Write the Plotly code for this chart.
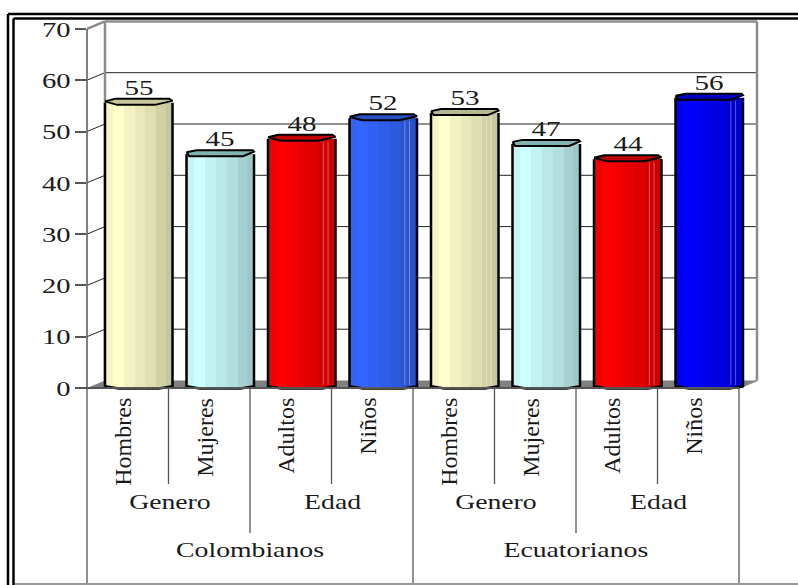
import plotly.graph_objects as go

# Chart data
groups = ["Colombianos", "Ecuatorianos"]
subgroups = ["Genero", "Edad", "Genero", "Edad"]
categories = ["Hombres", "Mujeres", "Adultos", "Niños", "Hombres", "Mujeres", "Adultos", "Niños"]
values = [55, 45, 48, 52, 53, 47, 44, 56]
y_ticks = [0, 10, 20, 30, 40, 50, 60, 70]

# Canvas geometry (pixels) for the front plane of the 3D box
W, H = 798, 585
X0_PX, X_SCALE = 87.0, 81.5      # px of x=0, px per category
Y0_PX, Y_SCALE = 388.0, 5.13     # px of y=0, px per value unit
PLOT_R_PX, PLOT_T_PX, PLOT_B_PX = 760.0, 16.0, 394.0
DEPTH_X = 18.0 / X_SCALE         # depth of the box along x
DEPTH_Y = 7.5 / Y_SCALE          # depth of the box along y

x_hi = (PLOT_R_PX - X0_PX) / X_SCALE
y_hi = (Y0_PX - PLOT_T_PX) / Y_SCALE
y_lo = (Y0_PX - PLOT_B_PX) / Y_SCALE

BAR_LEFT = 18.0 / X_SCALE        # offset of a bar's left edge inside its category
BAR_W = 67.5 / X_SCALE

# Cylinder shading: strip boundaries and brightness across each bar
strip_edges = [0, .12, .28, .44, .60, .76, .90, 1.0]
strip_shade = [.96, 1.0, .95, .91, .87, .82, .78]
base_colors = [(255, 255, 204), (204, 255, 255), (255, 0, 0), (51, 102, 255),
               (255, 255, 204), (204, 255, 255), (255, 0, 0), (0, 0, 255)]
top_colors = ["#c8c8a0", "#80b4b4", "#c00000", "#2850c0",
              "#b8b890", "#80b4b4", "#c00000", "#0000c0"]
# Top cap outline style for each bar: faceted or box-like
cap_box = [False, True, False, False, True, True, False, True]
side_lines = [False, False, True, True, True, False, True, True]


def paper_x(px):
    return (px - X0_PX) / (PLOT_R_PX - X0_PX)


def paper_y(py):
    return (PLOT_B_PX - py) / (PLOT_B_PX - PLOT_T_PX)


def shade(rgb, f):
    return "rgb(%d,%d,%d)" % tuple(round(c * f) for c in rgb)


fig = go.Figure()

# Shaded strips of the bars
for s, f in enumerate(strip_shade):
    lo, hi = strip_edges[s], strip_edges[s + 1]
    fig.add_trace(go.Bar(
        x=[i + BAR_LEFT + BAR_W * (lo + hi) / 2 for i in range(8)],
        y=[v + 0.6 for v in values],
        width=BAR_W * (hi - lo) + 0.004,
        marker=dict(color=[shade(c, f) for c in base_colors], line_width=0),
        hoverinfo="skip",
    ))

# Outline, cap and highlights of each bar
u = 1 / Y_SCALE
for i, v in enumerate(values):
    L = i + BAR_LEFT
    px = lambda fr: L + BAR_W * fr
    if side_lines[i]:
        for fr in (.82, .89):
            fig.add_trace(go.Scatter(x=[px(fr), px(fr)], y=[0.6, v], mode="lines",
                                     line=dict(color="rgba(255,255,255,0.35)", width=1), hoverinfo="skip"))
    # Walls and curved base
    fig.add_trace(go.Scatter(
        x=[px(0), px(0), px(.2), px(.8), px(1), px(1)],
        y=[v + 3 * u, 1.8 * u, -0.5 * u, -0.5 * u, 1.8 * u, v + 3 * u],
        mode="lines", line=dict(color="black", width=2.5), hoverinfo="skip"))
    # Top cap
    if cap_box[i]:
        cx = [0, .15, .98, 1, .84, .04, 0]
        cy = [5, 7, 7, 5.5, 1, 1, 5]
    else:
        cx = [0, .15, .95, 1, .74, .18, 0]
        cy = [4.5, 7, 7, 5, 1, 1, 4.5]
    fig.add_trace(go.Scatter(
        x=[px(a) for a in cx], y=[v + b * u for b in cy], mode="lines",
        fill="toself", fillcolor=top_colors[i],
        line=dict(color="black", width=2), hoverinfo="skip"))

shapes = []


def line(x0, y0, x1, y1, color, width, layer="below", xref="x", yref="y"):
    shapes.append(dict(type="line", x0=x0, y0=y0, x1=x1, y1=y1, xref=xref, yref=yref,
                       layer=layer, line=dict(color=color, width=width)))


# Floor of the box
shapes.append(dict(type="path", layer="below", xref="x", yref="y",
                   path=f"M0,0 L{DEPTH_X},{DEPTH_Y} L{8 + DEPTH_X},{DEPTH_Y} L8,0 Z",
                   fillcolor="#808080", line=dict(width=0)))
# Back wall gridlines and their links to the front axis
for t in y_ticks[1:-1]:
    line(DEPTH_X, t + DEPTH_Y, 8 + DEPTH_X, t + DEPTH_Y, "#222222", 1)
    line(0, t, DEPTH_X, t + DEPTH_Y, "#222222", 1)
# Grey box edges
wall = "#8c8c8c"
top = y_ticks[-1]
line(DEPTH_X, DEPTH_Y, DEPTH_X, top + DEPTH_Y, wall, 2.5)
line(8 + DEPTH_X, DEPTH_Y, 8 + DEPTH_X, top + DEPTH_Y, wall, 2.5)
line(DEPTH_X, top + DEPTH_Y, 8 + DEPTH_X, top + DEPTH_Y, wall, 2.5)
line(0, top, DEPTH_X, top + DEPTH_Y, wall, 2.5)
line(8, 0, 8 + DEPTH_X, DEPTH_Y, wall, 1.5)

# Front value axis and category baseline
axis = "#555555"
line(paper_x(87), 0, paper_x(87), top, axis, 1.5, "above", xref="paper")
line(0, 0, 8, 0, axis, 2, "above")
line(paper_x(76), 0, paper_x(87), 0, axis, 2, "above", xref="paper")

# Multi-level category dividers
for i in range(0, 9):
    depth_px = 583 if i % 4 == 0 else (533 if i % 2 == 0 else 484)
    xr = "paper" if i == 0 else "x"
    xv = paper_x(87) if i == 0 else i
    line(xv, paper_y(388), xv, paper_y(depth_px), axis, 1.3, "above", xref=xr, yref="paper")

# Double frame around the chart
line(paper_x(8), paper_y(14), paper_x(8), paper_y(585), "black", 2.5, "above", "paper", "paper")
line(paper_x(13.5), paper_y(18.5), paper_x(13.5), paper_y(585), "black", 2.5, "above", "paper", "paper")
line(paper_x(8), paper_y(14), paper_x(798), paper_y(14), "black", 2.5, "above", "paper", "paper")
line(paper_x(13.5), paper_y(18.5), paper_x(798), paper_y(18.5), "black", 2.5, "above", "paper", "paper")
line(paper_x(15), paper_y(584), paper_x(798), paper_y(584), "#333333", 1.2, "above", "paper", "paper")

annotations = []
TEXT = "#1a1a1a"
SERIF = "Liberation Serif"

# Value labels above the bars
for i, v in enumerate(values):
    annotations.append(dict(x=i + BAR_LEFT + BAR_W / 2, y=v, text=str(v), showarrow=False,
                            yanchor="bottom", yshift=4,
                            font=dict(family=SERIF, size=22, color=TEXT)))
# First-level category names, rotated
for i, c in enumerate(categories):
    annotations.append(dict(x=i + 0.5 - 5 / X_SCALE, y=paper_y(396), yref="paper", text=c, showarrow=False,
                            textangle=-90, yanchor="top",
                            font=dict(family=SERIF, size=24, color=TEXT)))
# Second and third level names
for i, g in enumerate(subgroups):
    annotations.append(dict(x=2 * i + 1 + 1.5 / X_SCALE, y=paper_y(516), yref="paper", text=g, showarrow=False,
                            font=dict(family=SERIF, size=21, color=TEXT)))
for i, g in enumerate(groups):
    annotations.append(dict(x=4 * i + 2, y=paper_y(564), yref="paper", text=g, showarrow=False,
                            font=dict(family=SERIF, size=21, color=TEXT)))

fig.update_layout(
    width=W, height=H, autosize=False,
    margin=dict(l=X0_PX, r=W - PLOT_R_PX, t=PLOT_T_PX, b=H - PLOT_B_PX, pad=0, autoexpand=False),
    paper_bgcolor="white", plot_bgcolor="white",
    showlegend=False, barmode="overlay", bargap=0,
    shapes=shapes, annotations=annotations,
    xaxis=dict(range=[0, x_hi], showticklabels=False, showgrid=False, zeroline=False,
               ticks="", showline=False, fixedrange=True),
    yaxis=dict(range=[y_lo, y_hi], tickvals=y_ticks, ticks="outside", ticklen=11, tickcolor=axis,
               tickwidth=1.5, showgrid=False, zeroline=False, showline=False, fixedrange=True,
               tickfont=dict(family=SERIF, size=22, color=TEXT)),
)

# Widen the horizontal labels to their drawn proportions
widen = """
var gd = document.querySelector('.plotly-graph-div');
gd.querySelectorAll('.ytick text').forEach(function (t) {
  t.setAttribute('lengthAdjust', 'spacingAndGlyphs');
  t.setAttribute('textLength', t.getComputedTextLength() * 1.3);
});
gd.querySelectorAll('.annotation-text').forEach(function (t) {
  var rotated = /rotate\\(-90/.test(t.closest('.annotation').innerHTML);
  if (!rotated) {
    t.setAttribute('lengthAdjust', 'spacingAndGlyphs');
    t.setAttribute('textLength', t.getComputedTextLength() * 1.32);
  }
});
"""
fig.write_html("out.html", config={"displayModeBar": False}, post_script=widen)
